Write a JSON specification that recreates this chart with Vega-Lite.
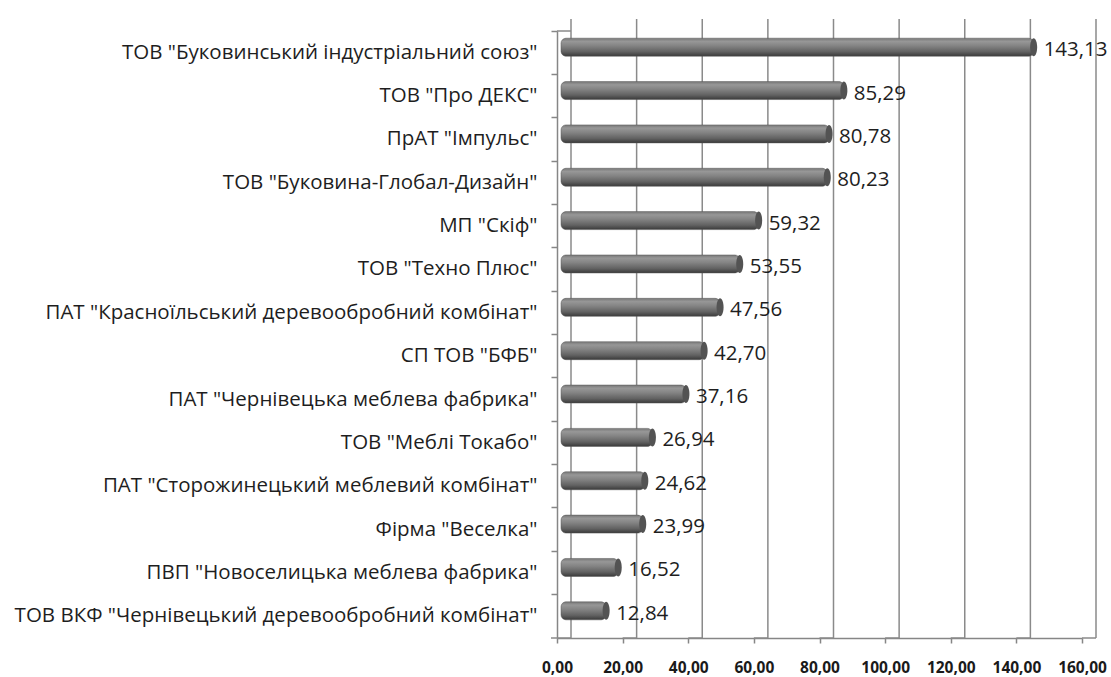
{
  "$schema": "https://vega.github.io/schema/vega-lite/v6.json",
  "width": 525,
  "height": 607,
  "autosize": "none",
  "padding": {"left": 557, "top": 31, "right": 29, "bottom": 39},
  "background": "white",
  "config": {
    "view": {"stroke": null},
    "locale": {"number": {"decimal": ",", "thousands": " ", "grouping": [3], "currency": ["", ""]}}
  },
  "datasets": {
    "firms": [
      {"name": "ТОВ \"Буковинський індустріальний союз\"", "v": 143.13},
      {"name": "ТОВ \"Про ДЕКС\"", "v": 85.29},
      {"name": "ПрАТ \"Імпульс\"", "v": 80.78},
      {"name": "ТОВ \"Буковина-Глобал-Дизайн\"", "v": 80.23},
      {"name": "МП \"Скіф\"", "v": 59.32},
      {"name": "ТОВ \"Техно Плюс\"", "v": 53.55},
      {"name": "ПАТ \"Красноїльський деревообробний комбінат\"", "v": 47.56},
      {"name": "СП ТОВ \"БФБ\"", "v": 42.70},
      {"name": "ПАТ \"Чернівецька меблева фабрика\"", "v": 37.16},
      {"name": "ТОВ \"Меблі Токабо\"", "v": 26.94},
      {"name": "ПАТ \"Сторожинецький меблевий комбінат\"", "v": 24.62},
      {"name": "Фірма \"Веселка\"", "v": 23.99},
      {"name": "ПВП \"Новоселицька меблева фабрика\"", "v": 16.52},
      {"name": "ТОВ ВКФ \"Чернівецький деревообробний комбінат\"", "v": 12.84}
    ],
    "ticks": [{"t": 0}, {"t": 20}, {"t": 40}, {"t": 60}, {"t": 80}, {"t": 100}, {"t": 120}, {"t": 140}, {"t": 160}]
  },
  "layer": [
    {
      "data": {"name": "ticks"},
      "mark": {"type": "rule", "color": "#8a8a8a", "strokeWidth": 1.5, "xOffset": 14, "yOffset": -12},
      "encoding": {
        "x": {"field": "t", "type": "quantitative", "scale": {"domain": [0, 160], "nice": false, "zero": true}}
      }
    },
    {
      "data": {"name": "ticks"},
      "mark": {"type": "rule", "color": "#8a8a8a", "strokeWidth": 1.5, "y": "height", "y2": "height", "x2Offset": 14, "y2Offset": -13},
      "encoding": {
        "x": {"field": "t", "type": "quantitative"},
        "x2": {"field": "t"}
      }
    },
    {
      "data": {"values": [{"t": 0}]},
      "mark": {"type": "rule", "color": "#8a8a8a", "strokeWidth": 1.5, "y": 0, "y2": 0, "x2Offset": 14, "y2Offset": -12},
      "encoding": {
        "x": {"field": "t", "type": "quantitative"},
        "x2": {"field": "t"}
      }
    },
    {
      "data": {"values": [{"t": 0}]},
      "mark": {"type": "rule", "color": "#8a8a8a", "strokeWidth": 1.5, "y": "height", "y2": "height", "xOffset": -6},
      "encoding": {
        "x": {"field": "t", "type": "quantitative"},
        "x2": {"field": "t"}
      }
    },
    {
      "data": {"name": "firms"},
      "layer": [
        {
          "mark": {
            "type": "bar",
            "height": 18,
            "yOffset": -5.5,
            "xOffset": 7,
            "x2Offset": 4,
            "cornerRadius": 5,
            "stroke": "#585858",
            "strokeWidth": 0.5,
            "color": {
              "gradient": "linear",
              "x1": 0, "y1": 0, "x2": 0, "y2": 1,
              "stops": [
                {"offset": 0, "color": "#777777"},
                {"offset": 0.18, "color": "#979797"},
                {"offset": 0.42, "color": "#848484"},
                {"offset": 0.75, "color": "#626262"},
                {"offset": 1, "color": "#3a3a3a"}
              ]
            }
          },
          "encoding": {
            "y": {
              "field": "name", "type": "nominal", "sort": null,
              "scale": {"paddingInner": 0, "paddingOuter": 0},
              "axis": {
                "title": null,
                "bandPosition": 0,
                "domainColor": "#868686",
                "domainWidth": 1.5,
                "tickColor": "#868686",
                "tickWidth": 1.5,
                "tickSize": 6,
                "labelFont": "Open Sans",
                "labelFontSize": 20.5,
                "labelColor": "#1e1e1e",
                "labelPadding": 14,
                "labelLimit": 0,
                "grid": false
              }
            },
            "x": {
              "field": "v", "type": "quantitative", "stack": null,
              "scale": {"domain": [0, 160], "nice": false},
              "axis": {
                "title": null,
                "values": [0, 20, 40, 60, 80, 100, 120, 140, 160],
                "format": ".2f",
                "grid": false,
                "domainColor": "#868686",
                "domainWidth": 1.5,
                "tickColor": "#868686",
                "tickWidth": 1.5,
                "tickSize": 5,
                "labelFont": "Open Sans",
                "labelFontWeight": "bold",
                "labelFontSize": 15.5,
                "labelColor": "#1a1a1a",
                "labelPadding": 17,
                "labelFlush": false
              }
            },
            "x2": {"datum": 0}
          }
        },
        {
          "mark": {
            "type": "point",
            "filled": true,
            "shape": "M0,-1 A0.39,1 0 1,1 0,1 A0.39,1 0 1,1 0,-1 Z",
            "size": 324,
            "opacity": 1,
            "color": "#535353",
            "xOffset": 7,
            "yOffset": -5.5
          },
          "encoding": {
            "y": {"field": "name", "type": "nominal", "sort": null},
            "x": {"field": "v", "type": "quantitative"}
          }
        },
        {
          "mark": {
            "type": "text",
            "align": "left",
            "baseline": "middle",
            "dx": 17,
            "dy": -2.5,
            "font": "Open Sans",
            "fontSize": 20.5,
            "color": "#1e1e1e"
          },
          "encoding": {
            "y": {"field": "name", "type": "nominal", "sort": null},
            "x": {"field": "v", "type": "quantitative"},
            "text": {"field": "v", "type": "quantitative", "format": ".2f"}
          }
        }
      ]
    }
  ]
}
